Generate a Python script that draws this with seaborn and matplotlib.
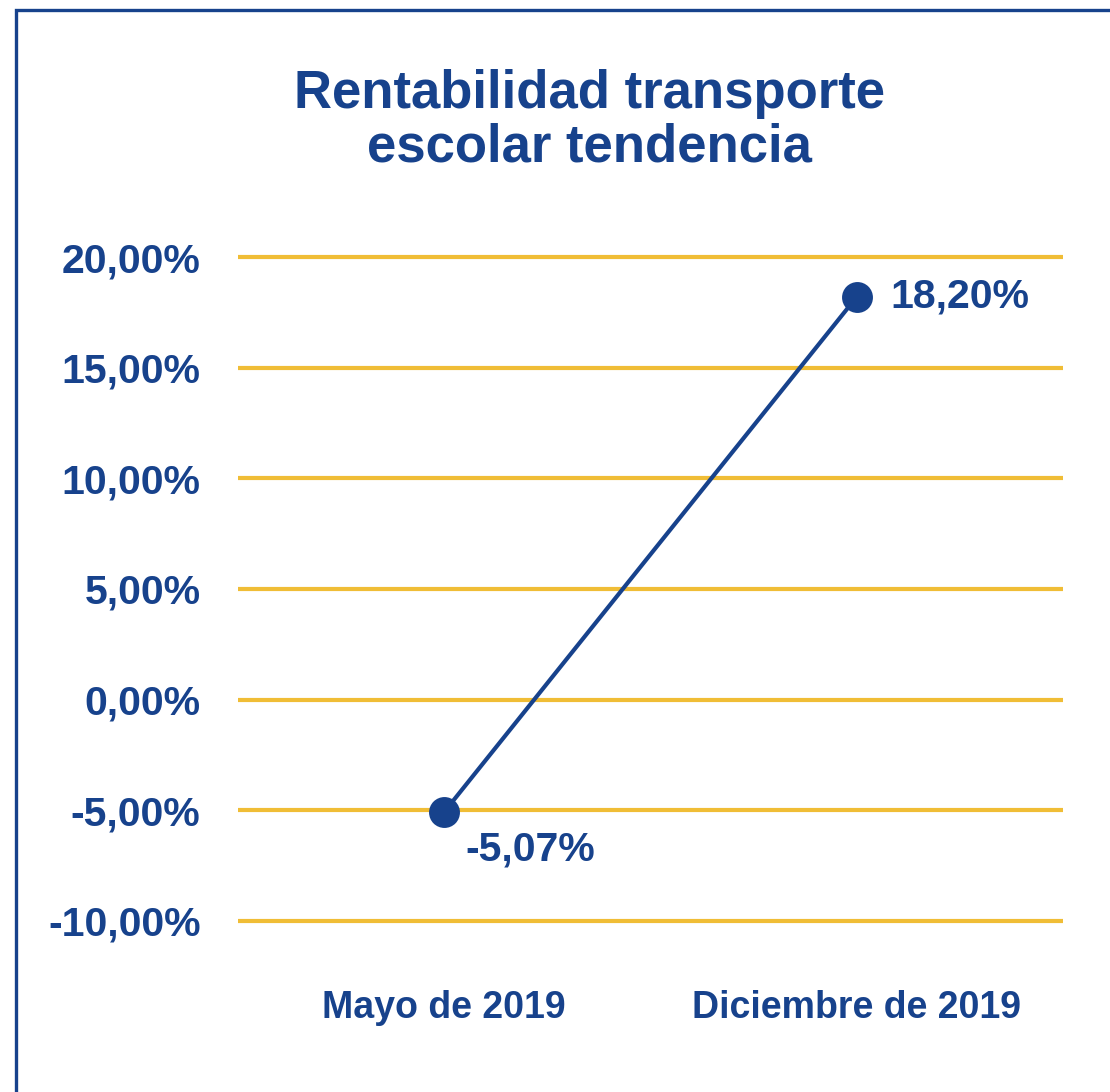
import seaborn as sns
import pandas as pd
import matplotlib.pyplot as plt
from matplotlib.patches import Rectangle

periodos = ["Mayo de 2019", "Diciembre de 2019"]
rentabilidad = [-5.07, 18.20]
etiquetas = ["-5,07%", "18,20%"]
ticks_y = [-10, -5, 0, 5, 10, 15, 20]
ticks_y_txt = ["-10,00%", "-5,00%", "0,00%", "5,00%", "10,00%", "15,00%", "20,00%"]

azul = "#17428c"
oro = "#f0bd36"

sns.set_theme(style="white")
plt.rcParams['font.family'] = ['Liberation Sans', 'DejaVu Sans']

df = pd.DataFrame({"periodo": periodos, "valor": rentabilidad})

fig = plt.figure(figsize=(11.1, 10.92), dpi=100)
# marco azul de la figura
fig.patches.append(Rectangle((15.5 / 1110, -0.05), 1.2, 1 - 10 / 1092 + 0.05,
                             transform=fig.transFigure, fill=False,
                             edgecolor=azul, linewidth=2.4))

ax = fig.add_axes([238 / 1110, 1 - 924.3 / 1092, 825 / 1110, (924.3 - 253.7) / 1092])

sns.pointplot(data=df, x="periodo", y="valor", color=azul, ax=ax,
              markersize=20, linewidth=3, zorder=5)

ax.set_ylim(-10.15, 20.15)
ax.set_xlim(-0.5, 1.5)
ax.set_yticks(ticks_y)
ax.set_yticklabels(ticks_y_txt)
ax.yaxis.grid(True, color=oro, linewidth=3)
ax.set_axisbelow(True)
for s in ax.spines.values():
    s.set_visible(False)
ax.tick_params(axis="y", length=0, pad=27, labelsize=29.5, labelcolor=azul)
ax.tick_params(axis="x", length=0, pad=47, labelsize=27, labelcolor=azul)
for lab in ax.get_xticklabels() + ax.get_yticklabels():
    lab.set_fontweight("bold")
ax.set_xlabel("")
ax.set_ylabel("")

ax.annotate(etiquetas[0], (0, rentabilidad[0]), xytext=(15, -27), textcoords="offset points",
            ha="left", va="center", fontsize=29.5, fontweight="bold", color=azul)
ax.annotate(etiquetas[1], (1, rentabilidad[1]), xytext=(24, 0), textcoords="offset points",
            ha="left", va="center", fontsize=29.5, fontweight="bold", color=azul)

fig.text(589 / 1110, 1 - 121 / 1092, "Rentabilidad transporte\nescolar tendencia",
         ha="center", va="center", fontsize=38, fontweight="bold", color=azul,
         linespacing=1.1)

fig.savefig("out.png", dpi=100)
